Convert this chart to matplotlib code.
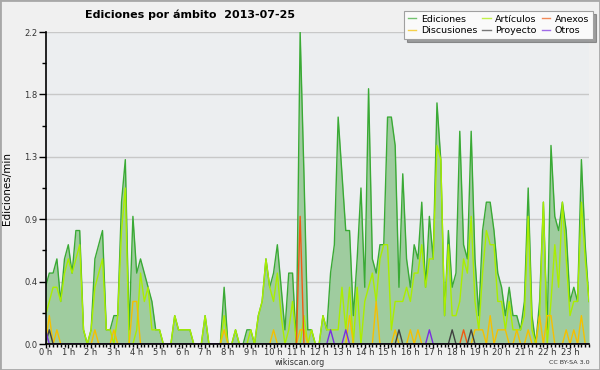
import matplotlib
matplotlib.use("Agg")
import matplotlib.pyplot as plt
from matplotlib.patches import Rectangle
import numpy as np

# ---- data (10-minute steps, 0:00 .. 23:50) ----
ediciones = [0.4, 0.5, 0.5, 0.6, 0.3, 0.6, 0.7, 0.5, 0.8, 0.8,
             0.1, 0.0, 0.1, 0.6, 0.7, 0.8, 0.1, 0.1, 0.2, 0.2,
             1.0, 1.3, 0.1, 0.9, 0.5, 0.6, 0.5, 0.4, 0.3, 0.1,
             0.1, 0.0, 0.0, 0.0, 0.2, 0.1, 0.1, 0.1, 0.1, 0.0,
             0.0, 0.0, 0.2, 0.0, 0.0, 0.0, 0.0, 0.4, 0.0, 0.0,
             0.1, 0.0, 0.0, 0.1, 0.1, 0.0, 0.2, 0.3, 0.6, 0.4,
             0.5, 0.7, 0.4, 0.1, 0.5, 0.5, 0.0, 2.2, 1.2, 0.1,
             0.1, 0.0, 0.0, 0.2, 0.1, 0.5, 0.7, 1.6, 1.2, 0.8,
             0.8, 0.2, 0.6, 1.1, 0.4, 1.8, 0.6, 0.5, 0.7, 0.7,
             1.6, 1.6, 1.4, 0.4, 1.2, 0.6, 0.4, 0.7, 0.6, 1.0,
             0.4, 0.9, 0.6, 1.7, 1.3, 0.2, 0.8, 0.4, 0.5, 1.5,
             0.7, 0.6, 1.5, 0.6, 0.2, 0.8, 1.0, 1.0, 0.8, 0.5,
             0.4, 0.2, 0.4, 0.2, 0.2, 0.1, 0.3, 1.1, 0.2, 0.0,
             0.3, 1.0, 0.1, 1.4, 0.9, 0.8, 1.0, 0.8, 0.3, 0.4,
             0.3, 1.3, 0.7, 0.3]
articulos = [0.2, 0.3, 0.4, 0.4, 0.3, 0.5, 0.6, 0.5, 0.6, 0.7,
             0.1, 0.0, 0.1, 0.4, 0.5, 0.6, 0.1, 0.1, 0.0, 0.2,
             0.8, 1.1, 0.0, 0.0, 0.1, 0.5, 0.3, 0.4, 0.1, 0.1,
             0.1, 0.0, 0.0, 0.0, 0.2, 0.1, 0.1, 0.1, 0.1, 0.0,
             0.0, 0.0, 0.2, 0.0, 0.0, 0.0, 0.0, 0.2, 0.0, 0.0,
             0.1, 0.0, 0.0, 0.0, 0.1, 0.0, 0.2, 0.3, 0.6, 0.4,
             0.3, 0.5, 0.2, 0.0, 0.1, 0.3, 0.0, 0.0, 0.2, 0.0,
             0.1, 0.0, 0.0, 0.2, 0.1, 0.1, 0.1, 0.1, 0.4, 0.1,
             0.4, 0.0, 0.4, 0.0, 0.3, 0.4, 0.5, 0.3, 0.6, 0.7,
             0.7, 0.1, 0.3, 0.3, 0.3, 0.4, 0.3, 0.5, 0.5, 0.7,
             0.4, 0.6, 0.6, 1.4, 1.3, 0.2, 0.7, 0.2, 0.2, 0.3,
             0.6, 0.5, 0.9, 0.3, 0.1, 0.5, 0.8, 0.7, 0.7, 0.3,
             0.3, 0.1, 0.3, 0.1, 0.1, 0.1, 0.2, 0.9, 0.1, 0.0,
             0.2, 1.0, 0.0, 0.3, 0.7, 0.4, 1.0, 0.6, 0.2, 0.3,
             0.3, 1.0, 0.6, 0.3]
discusiones = [0.0, 0.2, 0.0, 0.1, 0.0, 0.0, 0.0, 0.0, 0.0, 0.0,
               0.0, 0.0, 0.0, 0.1, 0.0, 0.0, 0.0, 0.0, 0.1, 0.0,
               0.0, 0.0, 0.0, 0.3, 0.3, 0.0, 0.0, 0.0, 0.0, 0.0,
               0.0, 0.0, 0.0, 0.0, 0.0, 0.0, 0.0, 0.0, 0.0, 0.0,
               0.0, 0.0, 0.0, 0.0, 0.0, 0.0, 0.0, 0.1, 0.0, 0.0,
               0.0, 0.0, 0.0, 0.0, 0.0, 0.0, 0.0, 0.0, 0.0, 0.0,
               0.1, 0.0, 0.0, 0.0, 0.0, 0.0, 0.0, 0.1, 0.1, 0.0,
               0.0, 0.0, 0.0, 0.0, 0.0, 0.0, 0.0, 0.0, 0.0, 0.0,
               0.2, 0.0, 0.0, 0.0, 0.0, 0.0, 0.0, 0.3, 0.0, 0.0,
               0.0, 0.0, 0.1, 0.0, 0.0, 0.0, 0.1, 0.0, 0.1, 0.0,
               0.0, 0.0, 0.0, 0.0, 0.0, 0.0, 0.0, 0.0, 0.0, 0.0,
               0.0, 0.0, 0.0, 0.1, 0.1, 0.1, 0.0, 0.2, 0.0, 0.1,
               0.1, 0.1, 0.0, 0.0, 0.1, 0.0, 0.0, 0.1, 0.0, 0.0,
               0.2, 0.0, 0.2, 0.2, 0.0, 0.0, 0.0, 0.1, 0.0, 0.1,
               0.0, 0.2, 0.0, 0.0]
anexos_nonzero = {67: 0.9, 110: 0.1}
proyecto_nonzero = {1: 0.1, 93: 0.1, 107: 0.1, 112: 0.1}
otros_nonzero = {0: 0.1, 75: 0.1, 79: 0.1, 101: 0.1}
anexos = [anexos_nonzero.get(k, 0.0) for k in range(144)]
proyecto = [proyecto_nonzero.get(k, 0.0) for k in range(144)]
otros = [otros_nonzero.get(k, 0.0) for k in range(144)]

hours = np.arange(144) / 6.0
ytick_vals = [0.0, 0.44, 0.88, 1.32, 1.76, 2.2]
ytick_labels = ["0.0", "0.4", "0.9", "1.3", "1.8", "2.2"]
xtick_labels = [f"{h} h" for h in range(24)]

# ---- figure ----
fig = plt.figure(figsize=(6.0, 3.7), dpi=100, facecolor="#f0f0f0")
ax = fig.add_axes([45.5 / 600, 1 - 344 / 370, (589 - 45.5) / 600, (344 - 32) / 370])
ax.set_facecolor("#eceef0")

ax.fill_between(hours, 0, ediciones, color="#9fcc9f", lw=0, zorder=2)
l_ed, = ax.plot(hours, ediciones, color="#3aaa35", lw=1.0, zorder=3)
l_ar, = ax.plot(hours, articulos, color="#aaee00", lw=1.0, zorder=4)
l_di, = ax.plot(hours, discusiones, color="#f5c000", lw=1.0, zorder=5)
l_an, = ax.plot(hours, anexos, color="#f05a14", lw=1.0, zorder=6)
l_pr, = ax.plot(hours, proyecto, color="#404040", lw=1.0, zorder=6)
l_ot, = ax.plot(hours, otros, color="#7a2ee0", lw=1.0, zorder=6)

ax.set_xlim(0, hours[-1])
ax.set_ylim(0, 2.2)
ax.set_yticks(ytick_vals)
ax.set_yticklabels(ytick_labels)
ax.set_yticks(np.arange(0.22, 2.2, 0.44), minor=True)
ax.set_xticks(np.arange(24))
ax.set_xticklabels(xtick_labels)
ax.set_xticks(hours, minor=True)
ax.grid(axis="y", which="major", color="#c8c8c8", lw=1.0, zorder=1)
ax.set_axisbelow(True)
for s in ("top", "right"):
    ax.spines[s].set_visible(False)
for s in ("left", "bottom"):
    ax.spines[s].set_color("black")
    ax.spines[s].set_linewidth(1.2)
    ax.spines[s].set_zorder(10)
ax.tick_params(axis="y", which="major", length=5, width=1, labelsize=6, colors="black", labelcolor="#333333", pad=1)
ax.tick_params(axis="y", which="minor", length=3, width=1, colors="black")
ax.tick_params(axis="x", which="major", length=3, width=1, labelsize=6, colors="black", labelcolor="#333333", pad=0)
ax.tick_params(axis="x", which="minor", length=2.5, width=1, colors="black")

ax.set_ylabel("Ediciones/min", fontsize=7.5, labelpad=6)
ax.yaxis.set_label_coords(-0.062, 0.5)

fig.text(85 / 600, 1 - 15 / 370, "Ediciones por ámbito  2013-07-25", fontsize=8,
         fontweight="bold", ha="left", va="center")
fig.text(300 / 600, 1 - 362.5 / 370, "wikiscan.org", fontsize=5.8, ha="center", va="center", color="#333333")
fig.text(590 / 600, 1 - 362.5 / 370, "CC BY-SA 3.0", fontsize=4.6, ha="right", va="center", color="#333333")

leg = fig.legend([l_ed, l_di, l_ar, l_pr, l_an, l_ot],
                 ["Ediciones", "Discusiones", "Artículos", "Proyecto", "Anexos", "Otros"],
                 ncol=3, loc="upper right", bbox_to_anchor=(593 / 600, 1 - 11 / 370),
                 fontsize=6.8, frameon=True, fancybox=False, shadow=True,
                 handlelength=0.9, handletextpad=0.5, columnspacing=0.5,
                 labelspacing=0.25, borderpad=0.4, borderaxespad=0)
leg.get_frame().set_facecolor("#fafafa")
leg.get_frame().set_edgecolor("#a0a0a0")
leg.get_frame().set_linewidth(0.8)
for h in leg.legend_handles:
    h.set_alpha(0.7)

fig.patches.append(Rectangle((0, 0), 1, 1, transform=fig.transFigure, fill=False,
                             edgecolor="#a8a8a8", lw=2, zorder=0))

fig.savefig("out.png", dpi=100, facecolor=fig.get_facecolor())
